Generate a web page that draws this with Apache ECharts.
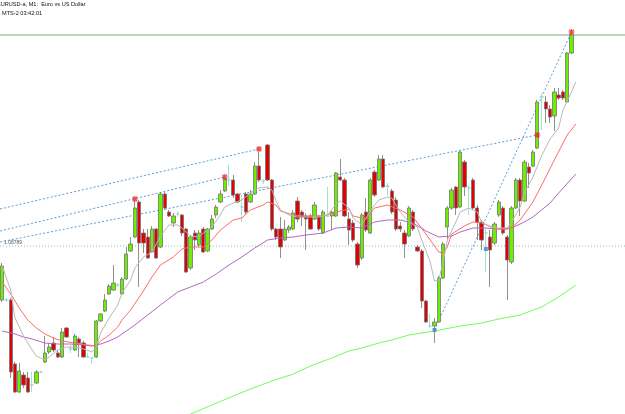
<!DOCTYPE html>
<html><head><meta charset="utf-8">
<script src="https://cdn.jsdelivr.net/npm/echarts@6/dist/echarts.min.js"></script>
<style>html,body{margin:0;padding:0;background:#fff;}#c{width:625px;height:414px;}</style>
</head><body><div id="c"></div>
<script>
const opens = [1.08735,1.08735,1.08735,1.08671,1.08643,1.08660,1.08657,1.08650,1.08652,1.08663,1.08673,1.08683,1.08692,1.08682,1.08678,1.08707,1.08686,1.08685,1.08696,1.08692,1.08678,1.08677,1.08678,1.08714,1.08724,1.08741,1.08745,1.08750,1.08741,1.08756,1.08784,1.08798,1.08833,1.08802,1.08798,1.08783,1.08806,1.08788,1.08841,1.08823,1.08812,1.08821,1.08820,1.08806,1.08767,1.08802,1.08790,1.08806,1.08784,1.08806,1.08820,1.08833,1.08844,1.08855,1.08855,1.08841,1.08828,1.08841,1.08833,1.08841,1.08869,1.08854,1.08890,1.08855,1.08806,1.08806,1.08795,1.08805,1.08806,1.08834,1.08823,1.08819,1.08819,1.08816,1.08819,1.08802,1.08819,1.08819,1.08819,1.08858,1.08855,1.08816,1.08812,1.08791,1.08777,1.08823,1.08802,1.08863,1.08855,1.08876,1.08849,1.08844,1.08835,1.08809,1.08802,1.08799,1.08823,1.08788,1.08784,1.08734,1.08709,1.08709,1.08713,1.08757,1.08808,1.08827,1.08848,1.08828,1.08873,1.08847,1.08855,1.08827,1.08813,1.08802,1.08798,1.08792,1.08820,1.08827,1.08798,1.08773,1.08827,1.08855,1.08834,1.08868,1.08869,1.08887,1.08938,1.08933,1.08926,1.08919,1.08940,1.08943,1.08933,1.08982];
const closes = [1.08769,1.08735,1.08663,1.08643,1.08664,1.08650,1.08643,1.08650,1.08663,1.08663,1.08682,1.08688,1.08685,1.08678,1.08703,1.08698,1.08686,1.08699,1.08692,1.08678,1.08678,1.08677,1.08714,1.08721,1.08735,1.08749,1.08752,1.08750,1.08756,1.08781,1.08791,1.08827,1.08792,1.08792,1.08777,1.08806,1.08777,1.08841,1.08827,1.08819,1.08819,1.08821,1.08802,1.08763,1.08798,1.08795,1.08802,1.08783,1.08806,1.08816,1.08828,1.08841,1.08856,1.08855,1.08840,1.08833,1.08828,1.08823,1.08841,1.08869,1.08855,1.08854,1.08855,1.08806,1.08798,1.08788,1.08806,1.08808,1.08822,1.08816,1.08818,1.08816,1.08806,1.08830,1.08806,1.08823,1.08819,1.08823,1.08862,1.08855,1.08819,1.08805,1.08795,1.08770,1.08820,1.08805,1.08855,1.08840,1.08876,1.08848,1.08849,1.08823,1.08806,1.08806,1.08791,1.08827,1.08806,1.08784,1.08734,1.08713,1.08709,1.08713,1.08757,1.08791,1.08827,1.08845,1.08827,1.08883,1.08848,1.08847,1.08827,1.08813,1.08795,1.08802,1.08785,1.08811,1.08833,1.08802,1.08775,1.08827,1.08855,1.08834,1.08873,1.08862,1.08883,1.08933,1.08938,1.08926,1.08918,1.08943,1.08937,1.08937,1.08982,1.09000];
const highs = [1.08772,1.08737,1.08737,1.08673,1.08672,1.08663,1.08663,1.08663,1.08665,1.08664,1.08699,1.08692,1.08698,1.08685,1.08707,1.08708,1.08690,1.08701,1.08698,1.08694,1.08682,1.08678,1.08715,1.08722,1.08741,1.08751,1.08770,1.08752,1.08758,1.08788,1.08798,1.08834,1.08835,1.08806,1.08806,1.08809,1.08807,1.08843,1.08843,1.08825,1.08822,1.08824,1.08821,1.08807,1.08800,1.08805,1.08805,1.08808,1.08807,1.08820,1.08830,1.08845,1.08857,1.08870,1.08860,1.08842,1.08840,1.08843,1.08845,1.08873,1.08883,1.08856,1.08891,1.08856,1.08807,1.08818,1.08815,1.08810,1.08825,1.08838,1.08825,1.08822,1.08821,1.08833,1.08820,1.08825,1.08848,1.08824,1.08863,1.08876,1.08857,1.08823,1.08815,1.08793,1.08822,1.08837,1.08857,1.08865,1.08880,1.08880,1.08852,1.08846,1.08838,1.08813,1.08805,1.08829,1.08825,1.08790,1.08786,1.08735,1.08721,1.08717,1.08759,1.08793,1.08829,1.08847,1.08849,1.08884,1.08875,1.08850,1.08857,1.08830,1.08815,1.08807,1.08805,1.08813,1.08835,1.08829,1.08800,1.08829,1.08857,1.08857,1.08875,1.08872,1.08885,1.08935,1.08942,1.08939,1.08930,1.08947,1.08947,1.08945,1.08983,1.09002];
const lows = [1.08733,1.08733,1.08657,1.08642,1.08642,1.08647,1.08642,1.08643,1.08651,1.08662,1.08672,1.08681,1.08683,1.08677,1.08677,1.08697,1.08682,1.08684,1.08678,1.08677,1.08677,1.08671,1.08677,1.08713,1.08723,1.08740,1.08744,1.08748,1.08740,1.08755,1.08783,1.08797,1.08748,1.08782,1.08776,1.08782,1.08776,1.08787,1.08825,1.08818,1.08808,1.08818,1.08799,1.08762,1.08765,1.08785,1.08788,1.08782,1.08783,1.08805,1.08817,1.08832,1.08843,1.08849,1.08837,1.08832,1.08813,1.08821,1.08832,1.08840,1.08853,1.08851,1.08854,1.08804,1.08795,1.08777,1.08794,1.08802,1.08805,1.08813,1.08809,1.08785,1.08805,1.08815,1.08804,1.08801,1.08818,1.08805,1.08818,1.08854,1.08818,1.08790,1.08793,1.08767,1.08775,1.08803,1.08801,1.08838,1.08854,1.08847,1.08840,1.08821,1.08804,1.08803,1.08777,1.08798,1.08804,1.08783,1.08727,1.08712,1.08707,1.08692,1.08712,1.08756,1.08795,1.08825,1.08820,1.08827,1.08839,1.08820,1.08825,1.08795,1.08785,1.08763,1.08748,1.08790,1.08818,1.08800,1.08735,1.08771,1.08826,1.08819,1.08833,1.08847,1.08868,1.08886,1.08905,1.08912,1.08912,1.08904,1.08935,1.08935,1.08932,1.08981];

const grayIdx = [0,2,3,5,7,8,10,11,13,15,17,19,21,22,23,25,27,28,30,31,33,35,37,39,41,42,44,46,47,49,51,52,54,56,58,60,62,63,64,65,67,69,71,74,76,78,79,81,82,84,85,87,88,90,91,93,95,97,98,100,101,102,103,104,106,107,109,111,112,114,116,118,119,121,122,124,126,128,130,131,133,134];
const grayVal = [1.08769,1.08745,1.08717,1.08699,1.08685,1.08679,1.08675,1.08678,1.08685,1.08688,1.08688,1.08686,1.08683,1.08688,1.08702,1.08717,1.08730,1.08742,1.08755,1.08767,1.08778,1.08783,1.08799,1.08810,1.08810,1.08807,1.08799,1.08798,1.08802,1.08808,1.08820,1.08828,1.08832,1.08835,1.08842,1.08847,1.08848,1.08845,1.08834,1.08825,1.08820,1.08818,1.08818,1.08818,1.08820,1.08831,1.08834,1.08827,1.08817,1.08810,1.08817,1.08830,1.08835,1.08838,1.08837,1.08823,1.08813,1.08808,1.08795,1.08773,1.08754,1.08755,1.08773,1.08795,1.08813,1.08823,1.08827,1.08823,1.08813,1.08808,1.08807,1.08807,1.08813,1.08828,1.08842,1.08858,1.08879,1.08896,1.08907,1.08925,1.08943,1.08953];
const redIdx = [0,2,4,6,8,10,12,14,17,20,22,23,25,27,28,30,33,35,37,40,42,44,47,49,51,54,56,58,61,62,64,65,68,71,75,78,81,82,84,85,87,90,93,96,99,102,103,104,105,108,110,112,115,117,119,121,124,127,129,132,134];
const redVal = [1.08753,1.08741,1.08727,1.08715,1.08707,1.08701,1.08697,1.08694,1.08692,1.08690,1.08689,1.08694,1.08700,1.08708,1.08715,1.08725,1.08744,1.08758,1.08770,1.08778,1.08786,1.08788,1.08788,1.08795,1.08805,1.08815,1.08817,1.08825,1.08830,1.08833,1.08830,1.08824,1.08820,1.08819,1.08819,1.08823,1.08826,1.08819,1.08817,1.08816,1.08827,1.08830,1.08825,1.08818,1.08801,1.08783,1.08782,1.08788,1.08801,1.08809,1.08813,1.08812,1.08807,1.08805,1.08807,1.08815,1.08833,1.08858,1.08875,1.08900,1.08911];
const purpleIdx = [0,3,5,7,10,13,16,19,21,23,25,27,29,31,34,37,41,44,47,50,53,56,59,62,65,68,71,75,78,81,84,87,90,93,96,99,102,105,107,110,113,116,119,122,124,126,128,130,134];
const purpleVal = [1.08704,1.08701,1.08698,1.08696,1.08692,1.08691,1.08691,1.08690,1.08689,1.08691,1.08694,1.08698,1.08704,1.08710,1.08720,1.08730,1.08743,1.08748,1.08753,1.08761,1.08770,1.08778,1.08787,1.08795,1.08797,1.08798,1.08800,1.08802,1.08807,1.08808,1.08807,1.08813,1.08815,1.08815,1.08812,1.08804,1.08798,1.08799,1.08803,1.08807,1.08807,1.08806,1.08807,1.08813,1.08818,1.08825,1.08832,1.08842,1.08861];
const greenIdx = [40,44,49,54,58,63,68,72,77,81,84,88,91,95,101,107,112,116,121,126,130,134];
const greenVal = [1.08613,1.08621,1.08630,1.08639,1.08646,1.08654,1.08661,1.08669,1.08677,1.08684,1.08687,1.08692,1.08695,1.08700,1.08704,1.08709,1.08712,1.08716,1.08720,1.08728,1.08738,1.08750];

const trendStartIdx = [-0.5, -0.5, -0.5, 101];
const trendStartVal = [1.08826, 1.08804, 1.08793, 1.08705];
const trendEndIdx = [60, 52, 125, 133];
const trendEndVal = [1.08886, 1.08858, 1.08900, 1.09003];

const fractalUpIdx = [31, 52, 60, 125, 133];
const fractalUpVal = [1.08836, 1.08858, 1.08886, 1.08900, 1.09003];
const fractalDnIdx = [101, 113];
const fractalDnVal = [1.08705, 1.08786];

const levelPrice = 1.08789;
const bidPrice = 1.09000;
const levelLabel = '1.08789';
const titleText = 'EURUSD-a, M1:  Euro vs US Dollar';
const clockText = 'MTS-2 03:42:01';

const N_SLOTS = 146;
const slots = Array.from({length: N_SLOTS}, (_, i) => 'b' + i);
const DOJI = '#86dcc8';
const candleData = opens.map((o, i) => {
  const item = {value: [o, closes[i], lows[i], highs[i]]};
  if (o === closes[i]) {
    item.itemStyle = {color: DOJI, color0: DOJI, borderColor: DOJI, borderColor0: DOJI, borderColorDoji: DOJI};
  }
  return item;
});
const pairs = (xs, ys) => xs.map((x, i) => [x, ys[i]]);

const chart = echarts.init(document.getElementById('c'), null, {renderer: 'canvas'});
const series = [
  {type: 'line', xAxisIndex: 1, data: [[-0.5, levelPrice], [N_SLOTS - 0.5, levelPrice]], symbol: 'none', silent: true,
   lineStyle: {color: '#7fc4b4', width: 1, type: [1, 2]}, z: 1},
  {type: 'line', xAxisIndex: 1, data: [[-0.5, bidPrice], [N_SLOTS - 0.5, bidPrice]], symbol: 'none', silent: true,
   lineStyle: {color: '#7ea67e', width: 1}, z: 1}
];
trendStartIdx.forEach((s, k) => {
  series.push({type: 'line', xAxisIndex: 1, data: [[s, trendStartVal[k]], [trendEndIdx[k], trendEndVal[k]]],
    symbol: 'none', silent: true, lineStyle: {color: '#5b9bd8', width: 1, type: [2, 2]}, z: 2});
});
series.push({
  type: 'candlestick', xAxisIndex: 0, data: candleData, barWidth: 3.8, z: 3,
  itemStyle: {color: '#6cf000', color0: '#e20000', borderColor: '#747474', borderColor0: '#747474', borderColorDoji: DOJI, borderWidth: 0.8}
});
const maDefs = [[greenIdx, greenVal, '#74fa5e'], [purpleIdx, purpleVal, '#b466c4'], [redIdx, redVal, '#ff6b6b'], [grayIdx, grayVal, '#b8b8b8']];
maDefs.forEach(d => {
  series.push({type: 'line', xAxisIndex: 1, data: pairs(d[0], d[1]), symbol: 'none', silent: true,
    lineStyle: {color: d[2], width: 1}, z: 4});
});
series.push({type: 'scatter', xAxisIndex: 1, data: pairs(fractalUpIdx, fractalUpVal), z: 5, silent: true,
  symbol: 'path://M4,0L4,8M0,4L8,4M1,1L7,7M7,1L1,7', symbolSize: 6,
  itemStyle: {color: 'none', borderColor: '#ee2222', borderWidth: 1.2}});
series.push({type: 'scatter', xAxisIndex: 1, data: pairs(fractalDnIdx, fractalDnVal), z: 5, silent: true,
  symbol: 'rect', symbolSize: 4, itemStyle: {color: '#3f7fd4'}});

chart.setOption({
  animation: false,
  backgroundColor: '#ffffff',
  grid: {left: -3.49, right: -1.2, top: 0, bottom: 0},
  xAxis: [
    {type: 'category', data: slots, show: false, boundaryGap: true},
    {type: 'value', min: -0.5, max: N_SLOTS - 0.5, show: false}
  ],
  yAxis: {type: 'value', min: 1.08621, max: 1.09035, show: false, scale: true, splitLine: {show: false}},
  series: series,
  graphic: [
    {type: 'text', x: -3, y: 1, style: {text: titleText, font: '5.6px "Liberation Sans"', fill: '#111', verticalAlign: 'top'}},
    {type: 'text', x: 2, y: 10, style: {text: clockText, font: '5.6px "Liberation Sans"', fill: '#111', verticalAlign: 'top'}},
    {type: 'text', x: 4, y: 240, style: {text: levelLabel, font: '5px "Liberation Sans"', fill: '#555', verticalAlign: 'top'}}
  ]
});
</script>
</body></html>
